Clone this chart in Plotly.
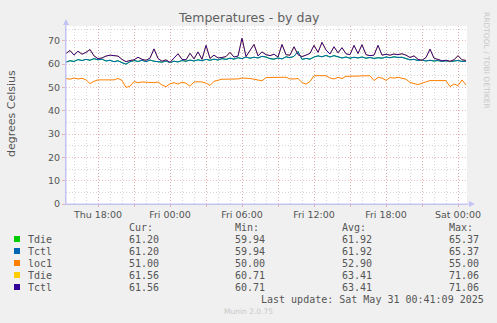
import datetime as dt
import plotly.graph_objects as go

# ---------------- data ----------------
start = dt.datetime(2025, 5, 29, 15, 20)
step_min = 20

# Tctl/Tdie (first sensor pair, identical readings) - teal line
tdie_a = [60.8, 61.4, 61.1, 61.9, 61.5, 62.0, 61.6, 62.3, 61.8, 62.1,
          61.3, 61.6, 61.0, 61.4, 60.6, 59.94, 61.0, 61.5, 61.1, 61.6,
          61.0, 61.7, 61.2, 61.0, 60.8, 61.3, 60.6, 61.2, 60.9, 61.5,
          61.2, 61.7, 61.3, 61.8, 61.4, 62.0, 61.6, 62.1, 61.7, 62.3,
          62.0, 62.5, 62.1, 62.7, 62.3, 63.0, 62.5, 62.9, 62.6, 63.3,
          63.0, 62.3, 62.1, 62.6, 62.2, 63.1, 62.7, 63.3, 65.37, 62.0,
          62.4, 62.1, 63.0, 63.5, 63.1, 63.7, 63.0, 63.6, 63.0, 62.6,
          63.0, 62.5, 62.9, 62.6, 63.0, 62.5, 62.8, 62.4, 62.7, 62.5,
          63.0, 62.7, 63.1, 62.8, 62.9, 62.3, 61.8, 62.0, 61.5, 61.7,
          61.3, 61.6, 61.3, 61.5, 61.1, 61.4, 61.0, 61.3, 61.5, 61.1,
          61.2]
tctl_a = list(tdie_a)

# loc1
loc1 = [53.8, 53.5, 54.0, 53.6, 53.9, 53.2, 51.6, 52.6, 53.2, 53.2,
        53.2, 53.2, 53.2, 53.8, 53.0, 50.0, 50.5, 52.5, 52.0, 52.3,
        52.1, 52.2, 52.0, 52.3, 51.0, 50.3, 51.5, 52.0, 51.4, 52.2,
        51.8, 50.5, 52.3, 52.4, 52.3, 51.8, 50.8, 52.6, 53.0, 53.5,
        53.5, 53.5, 53.5, 53.6, 54.0, 54.0, 53.8, 53.5, 53.0, 52.8,
        54.2, 54.3, 54.3, 54.3, 54.3, 54.3, 53.6, 53.6, 53.8, 52.1,
        51.4, 52.5, 55.0, 55.0, 55.0, 55.0, 54.0, 53.6, 54.3, 53.8,
        54.7, 54.8, 54.8, 54.8, 54.8, 55.0, 55.0, 52.9, 54.3, 54.0,
        53.0, 54.2, 54.0, 54.3, 54.0, 53.5, 52.1, 51.5, 51.2, 51.8,
        52.5, 52.9, 52.9, 52.9, 52.9, 52.9, 50.3, 51.5, 50.7, 53.2,
        51.0]

# Tctl/Tdie (second sensor pair, identical readings) - purple line
tdie_b = [64.5, 65.8, 63.8, 65.5, 64.2, 65.0, 66.2, 63.5, 62.3, 62.6,
          63.4, 63.8, 63.6, 63.4, 62.0, 61.0, 61.5, 61.8, 62.9, 62.0,
          61.6, 62.5, 66.5, 62.4, 61.2, 61.8, 60.71, 62.5, 64.4, 62.0,
          61.8, 64.6, 62.2, 65.2, 62.0, 68.0, 62.4, 63.8, 62.6, 62.8,
          63.2, 65.0, 63.0, 63.4, 71.06, 63.2, 66.0, 68.4, 63.5, 65.2,
          64.0, 63.6, 64.2, 63.0, 68.4, 64.0, 63.8, 67.4, 64.0, 63.2,
          63.8, 64.6, 68.0, 65.0, 69.3, 66.0, 64.3, 67.4, 64.8, 67.0,
          64.4, 64.0, 68.0, 64.5, 68.3, 64.0, 63.6, 63.8, 68.0, 63.8,
          64.2, 63.8, 64.3, 64.0, 64.4, 63.8, 62.8, 63.5, 62.0, 61.6,
          62.8, 66.4, 62.5, 61.8, 61.4, 61.6, 61.2, 61.8, 63.6, 61.8,
          61.56]
tctl_b = list(tdie_b)

times = [start + dt.timedelta(minutes=step_min * i) for i in range(len(tdie_a))]

series_names = ["Tdie", "Tctl", "loc1", "Tdie", "Tctl"]
series_values = [tdie_a, tctl_a, loc1, tdie_b, tctl_b]
series_colors = ["#00CC00", "#0066B3", "#FF8000", "#FFCC00", "#330099"]

cur_vals = ["61.20", "61.20", "51.00", "61.56", "61.56"]
min_vals = ["59.94", "59.94", "50.00", "60.71", "60.71"]
avg_vals = ["61.92", "61.92", "52.90", "63.41", "63.41"]
max_vals = ["65.37", "65.37", "55.00", "71.06", "71.06"]

x_range = [dt.datetime(2025, 5, 29, 15, 20), dt.datetime(2025, 5, 31, 0, 45)]
y_range = [0, 76.3]
major_ticks = [dt.datetime(2025, 5, 29, 18, 0) + dt.timedelta(hours=3 * k) for k in range(11)]
major_text = ["Thu 18:00", "", "Fri 00:00", "", "Fri 06:00", "", "Fri 12:00", "",
              "Fri 18:00", "", "Sat 00:00"]

# ---------------- layout geometry ----------------
W, H = 497, 323
ML, MR, MT, MB = 66, 30, 26, 119
PW, PH = W - ML - MR, H - MT - MB


def px(x):
    return (x - ML) / PW


def py(y):
    return (H - MB - y) / PH


fig = go.Figure()
for name, vals, col in zip(series_names, series_values, series_colors):
    fig.add_trace(go.Scatter(x=times, y=vals, mode="lines", name=name,
                             line=dict(color=col, width=1), hoverinfo="skip"))

major_grid = "rgba(225,140,140,0.6)"
minor_grid = "rgba(180,180,180,0.55)"
axis_col = "#C4C4F4"
txt = "#555555"
dot = "1px,2px"

fig.update_layout(
    width=W, height=H,
    margin=dict(l=ML, r=MR, t=MT, b=MB),
    paper_bgcolor="#F0F0F0", plot_bgcolor="#FFFFFF",
    showlegend=False,
    font=dict(family="DejaVu Sans", color=txt, size=10),
    xaxis=dict(range=x_range, type="date", tickvals=major_ticks, ticktext=major_text,
               showgrid=True, gridcolor=major_grid, griddash=dot, gridwidth=1,
               ticks="outside", ticklen=2, tickcolor=major_grid,
               tickfont=dict(size=9.5, color=txt),
               showline=True, linecolor=axis_col, linewidth=1, zeroline=False,
               minor=dict(dtick=3600000, tick0="2025-05-29 00:00", showgrid=True,
                          gridcolor=minor_grid, griddash=dot, gridwidth=1, ticks="")),
    yaxis=dict(range=y_range, dtick=10, tick0=0,
               showgrid=True, gridcolor=major_grid, griddash=dot, gridwidth=1,
               ticks="outside", ticklen=3, tickcolor=major_grid,
               tickfont=dict(size=9.5, color=txt),
               showline=True, linecolor=axis_col, linewidth=1, zeroline=False,
               minor=dict(dtick=5, showgrid=True, gridcolor=minor_grid,
                          griddash=dot, gridwidth=1, ticks="")),
)

ann = []
shapes = []
# title
ann.append(dict(text="Temperatures - by day", xref="paper", yref="paper",
                x=px(W / 2), y=py(18), xanchor="center", yanchor="middle",
                showarrow=False, font=dict(size=12.5, color="#606060")))
# y axis title
ann.append(dict(text="degrees Celsius", xref="paper", yref="paper",
                x=px(11), y=py(114), textangle=-90, xanchor="center", yanchor="middle",
                showarrow=False, font=dict(size=11, color=txt)))
# rrdtool watermark
ann.append(dict(text="RRDTOOL / TOBI OETIKER", xref="paper", yref="paper",
                x=px(487), y=py(60), textangle=90, xanchor="center", yanchor="middle",
                showarrow=False, font=dict(size=7.5, color="#C8C8C8")))
# axis arrows
shapes.append(dict(type="line", xref="paper", yref="paper", x0=px(66), x1=px(66),
                   y0=py(204), y1=py(22), line=dict(color=axis_col, width=1)))
shapes.append(dict(type="path", xref="paper", yref="paper",
                   path=f"M {px(63)} {py(25)} L {px(69)} {py(25)} L {px(66)} {py(19)} Z",
                   fillcolor=axis_col, line=dict(width=0)))
shapes.append(dict(type="line", xref="paper", yref="paper", x0=px(66), x1=px(470),
                   y0=py(204), y1=py(204), line=dict(color=axis_col, width=1)))
shapes.append(dict(type="path", xref="paper", yref="paper",
                   path=f"M {px(469)} {py(201)} L {px(469)} {py(207)} L {px(475)} {py(204)} Z",
                   fillcolor=axis_col, line=dict(width=0)))

# legend block
mono = dict(family="DejaVu Sans Mono", size=10, color=txt)
header_y = 227
for label, xpos in [("Cur:", 127), ("Min:", 233), ("Avg:", 340), ("Max:", 447)]:
    ann.append(dict(text=label, xref="paper", yref="paper", x=px(xpos), y=py(header_y),
                    xanchor="left", yanchor="middle", showarrow=False, font=mono))
for i, (name, col) in enumerate(zip(series_names, series_colors)):
    yy = 239 + 12 * i
    shapes.append(dict(type="rect", xref="paper", yref="paper",
                       x0=px(14), x1=px(20), y0=py(yy + 3), y1=py(yy - 3),
                       fillcolor=col, line=dict(width=0)))
    ann.append(dict(text=name, xref="paper", yref="paper", x=px(26), y=py(yy),
                    xanchor="left", yanchor="middle", showarrow=False, font=mono))
    for vals, xpos in [(cur_vals, 127), (min_vals, 233), (avg_vals, 340), (max_vals, 447)]:
        ann.append(dict(text=vals[i], xref="paper", yref="paper", x=px(xpos), y=py(yy),
                        xanchor="left", yanchor="middle", showarrow=False, font=mono))
ann.append(dict(text="Last update: Sat May 31 00:41:09 2025", xref="paper", yref="paper",
                x=px(486), y=py(299), xanchor="right", yanchor="middle",
                showarrow=False, font=mono))
ann.append(dict(text="Munin 2.0.75", xref="paper", yref="paper", x=px(248), y=py(311),
                xanchor="center", yanchor="middle", showarrow=False,
                font=dict(family="DejaVu Sans", size=7.5, color="#C8C8C8")))

fig.update_layout(annotations=ann, shapes=shapes)
fig.write_html("out.html", config={"displayModeBar": False})
